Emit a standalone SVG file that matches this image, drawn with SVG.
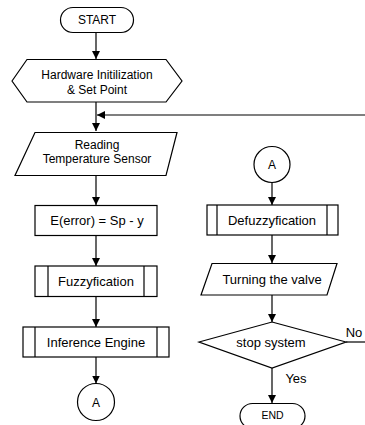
<svg xmlns="http://www.w3.org/2000/svg" width="365" height="425" viewBox="0 0 365 425">
<style>
.s{fill:#fff;stroke:#000;stroke-width:1.2}
.c{fill:none;stroke:#000;stroke-width:1.2}
text{font-family:"Liberation Sans",Arial,sans-serif;font-size:13px;fill:#000;text-anchor:middle}
.sm{font-size:12px}
.xs{font-size:10.5px}
</style>
<defs>
<marker id="ah" markerUnits="userSpaceOnUse" markerWidth="8" markerHeight="9" refX="8" refY="4" orient="auto">
<path d="M0,0 L8,4 L0,8 Z" fill="#000"/>
</marker>
</defs>
<g id="connectors">
<line class="c" x1="96" y1="32" x2="96" y2="59" marker-end="url(#ah)"/>
<line class="c" x1="96" y1="102" x2="96" y2="131" marker-end="url(#ah)"/>
<line class="c" x1="365" y1="115" x2="97" y2="115" marker-end="url(#ah)"/>
<line class="c" x1="96" y1="176" x2="96" y2="205" marker-end="url(#ah)"/>
<line class="c" x1="96" y1="236" x2="96" y2="266" marker-end="url(#ah)"/>
<line class="c" x1="96" y1="297" x2="96" y2="327" marker-end="url(#ah)"/>
<line class="c" x1="96" y1="357" x2="96" y2="383.5" marker-end="url(#ah)"/>
<line class="c" x1="272" y1="182.5" x2="272" y2="205" marker-end="url(#ah)"/>
<line class="c" x1="272" y1="235" x2="272" y2="263" marker-end="url(#ah)"/>
<line class="c" x1="272" y1="295" x2="272" y2="322" marker-end="url(#ah)"/>
<line class="c" x1="272" y1="368" x2="272" y2="403" marker-end="url(#ah)"/>
<line class="c" x1="346" y1="342" x2="365" y2="342"/>
<text x="354" y="337">No</text>
<text x="296" y="383">Yes</text>
</g>
<g id="start">
<rect class="s" x="60.5" y="7.5" width="73" height="25" rx="12.5"/>
<text class="sm" x="97" y="24">START</text>
</g>
<g id="init">
<polygon class="s" points="12,81 27,59.5 166,59.5 182,81 166,102 27,102"/>
<text class="sm" x="97" y="79">Hardware Initilization</text>
<text class="sm" x="97" y="94">&amp; Set Point</text>
</g>
<g id="read">
<polygon class="s" points="35,132.5 177,132.5 166,175.5 15,175.5"/>
<text class="sm" x="97" y="149">Reading</text>
<text class="sm" x="97" y="163">Temperature Sensor</text>
</g>
<g id="error">
<rect class="s" x="35" y="205.5" width="122" height="30"/>
<text x="97" y="225">E(error) = Sp - y</text>
</g>
<g id="fuzzy">
<rect class="s" x="35" y="266" width="122" height="30.5"/>
<line class="c" x1="48" y1="266" x2="48" y2="296.5"/>
<line class="c" x1="144" y1="266" x2="144" y2="296.5"/>
<text x="96" y="285.5">Fuzzyfication</text>
</g>
<g id="inference">
<rect class="s" x="23" y="327" width="146" height="30"/>
<line class="c" x1="35" y1="327" x2="35" y2="357"/>
<line class="c" x1="157" y1="327" x2="157" y2="357"/>
<text x="96" y="346.5">Inference Engine</text>
</g>
<g id="connA1">
<circle class="s" cx="96" cy="402" r="18.5"/>
<text class="sm" x="96" y="406.5">A</text>
</g>
<g id="connA2">
<circle class="s" cx="272" cy="164.5" r="18"/>
<text class="sm" x="272" y="169">A</text>
</g>
<g id="defuzzy">
<rect class="s" x="207" y="205" width="131" height="30"/>
<line class="c" x1="217" y1="205" x2="217" y2="235"/>
<line class="c" x1="327" y1="205" x2="327" y2="235"/>
<text x="272" y="224.5">Defuzzyfication</text>
</g>
<g id="valve">
<polygon class="s" points="212,263.5 337,263.5 327,295 201,295"/>
<text x="272" y="283.5">Turning the valve</text>
</g>
<g id="decision">
<polygon class="s" points="272,322 346,342 272,368 199,342"/>
<text x="271" y="346.5">stop system</text>
</g>
<g id="end">
<rect class="s" x="240" y="403.5" width="65" height="25" rx="12.5"/>
<text class="xs" x="272.5" y="419">END</text>
</g>
</svg>
